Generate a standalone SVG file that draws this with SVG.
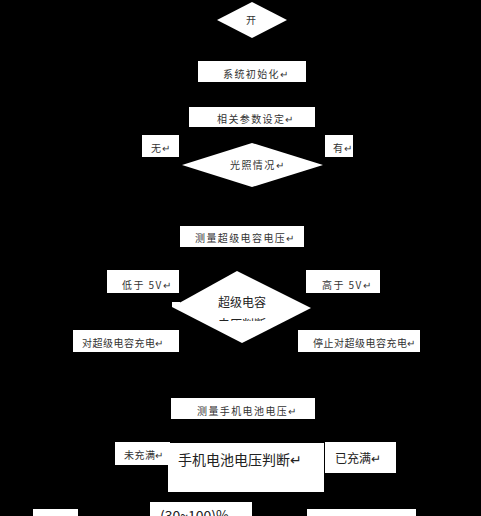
<svg xmlns="http://www.w3.org/2000/svg" width="481" height="516" viewBox="0 0 481 516">
<defs>
<style>
.s{fill:#fff;stroke:none}
.t{font-family:"Noto Sans CJK SC","Liberation Serif",serif;font-size:10px;fill:#333;letter-spacing:1.4px}
.n{letter-spacing:0.5px}
.m{font-family:"Noto Sans CJK SC","Liberation Serif",serif;font-size:12px;fill:#222}
.b{font-family:"Noto Sans CJK SC","Liberation Serif",serif;font-size:14px;fill:#222}
</style>
<clipPath id="cl"><rect x="170" y="270" width="145" height="51"/></clipPath>
</defs>
<rect width="481" height="516" fill="#000"/>
<g id="connectors"/>
<g id="start"><polygon class="s" points="217,20 252,2 287,20 252,38"/><text class="t" x="246" y="24">开</text></g>
<g id="init"><rect class="s" x="198" y="61" width="108" height="21"/><text class="t" x="223" y="78">系统初始化↵</text></g>
<g id="param"><rect class="s" x="189" y="107" width="126" height="20"/><text class="t" x="217" y="123">相关参数设定↵</text></g>
<g id="no"><rect class="s" x="142" y="135" width="37" height="22"/><text class="t" x="151" y="152">无↵</text></g>
<g id="yes"><rect class="s" x="325" y="135" width="28" height="22"/><text class="t" x="333" y="152">有↵</text></g>
<g id="light"><polygon class="s" points="182,165 252,143 323,165 252,187"/><text class="t" x="230" y="169">光照情况↵</text></g>
<g id="measure-cap"><rect class="s" x="180" y="226" width="124" height="21"/><text class="t" x="195" y="242">测量超级电容电压↵</text></g>
<g id="low5"><rect class="s" x="107" y="270" width="72" height="23"/><text class="t" x="122" y="289">低于 5V↵</text></g>
<g id="high5"><rect class="s" x="306" y="270" width="74" height="23"/><text class="t" x="322" y="289">高于 5V↵</text></g>
<g id="cap-judge"><polygon class="s" points="172,307 237,271 311,308 242,343"/><rect class="s" x="172" y="302" width="8" height="5"/><text class="m" x="218" y="307">超级电容</text><text class="m" x="218" y="329" clip-path="url(#cl)">电压判断↵</text></g>
<g id="charge"><rect class="s" x="73" y="330" width="106" height="22"/><text class="t n" x="82" y="347">对超级电容充电↵</text></g>
<g id="stop"><rect class="s" x="298" y="330" width="122" height="22"/><text class="t n" x="313" y="347">停止对超级电容充电↵</text></g>
<g id="measure-bat"><rect class="s" x="171" y="398" width="144" height="21"/><text class="t" x="197" y="415">测量手机电池电压↵</text></g>
<g id="notfull"><rect class="s" x="115" y="442" width="55" height="23"/><text class="t n" x="124" y="459">未充满↵</text></g>
<g id="bat-judge"><rect class="s" x="168" y="443" width="156" height="49"/><text class="b" x="178" y="465">手机电池电压判断↵</text></g>
<g id="full"><rect class="s" x="325" y="442" width="71" height="31"/><text class="m" x="335" y="463">已充满↵</text></g>
<g id="b1"><rect class="s" x="33" y="509" width="45" height="7"/></g>
<g id="b2"><rect class="s" x="150" y="502" width="102" height="14"/><text class="b" x="160" y="521">(30~100)%</text></g>
<g id="b3"><rect class="s" x="307" y="509" width="109" height="7"/></g>
</svg>
